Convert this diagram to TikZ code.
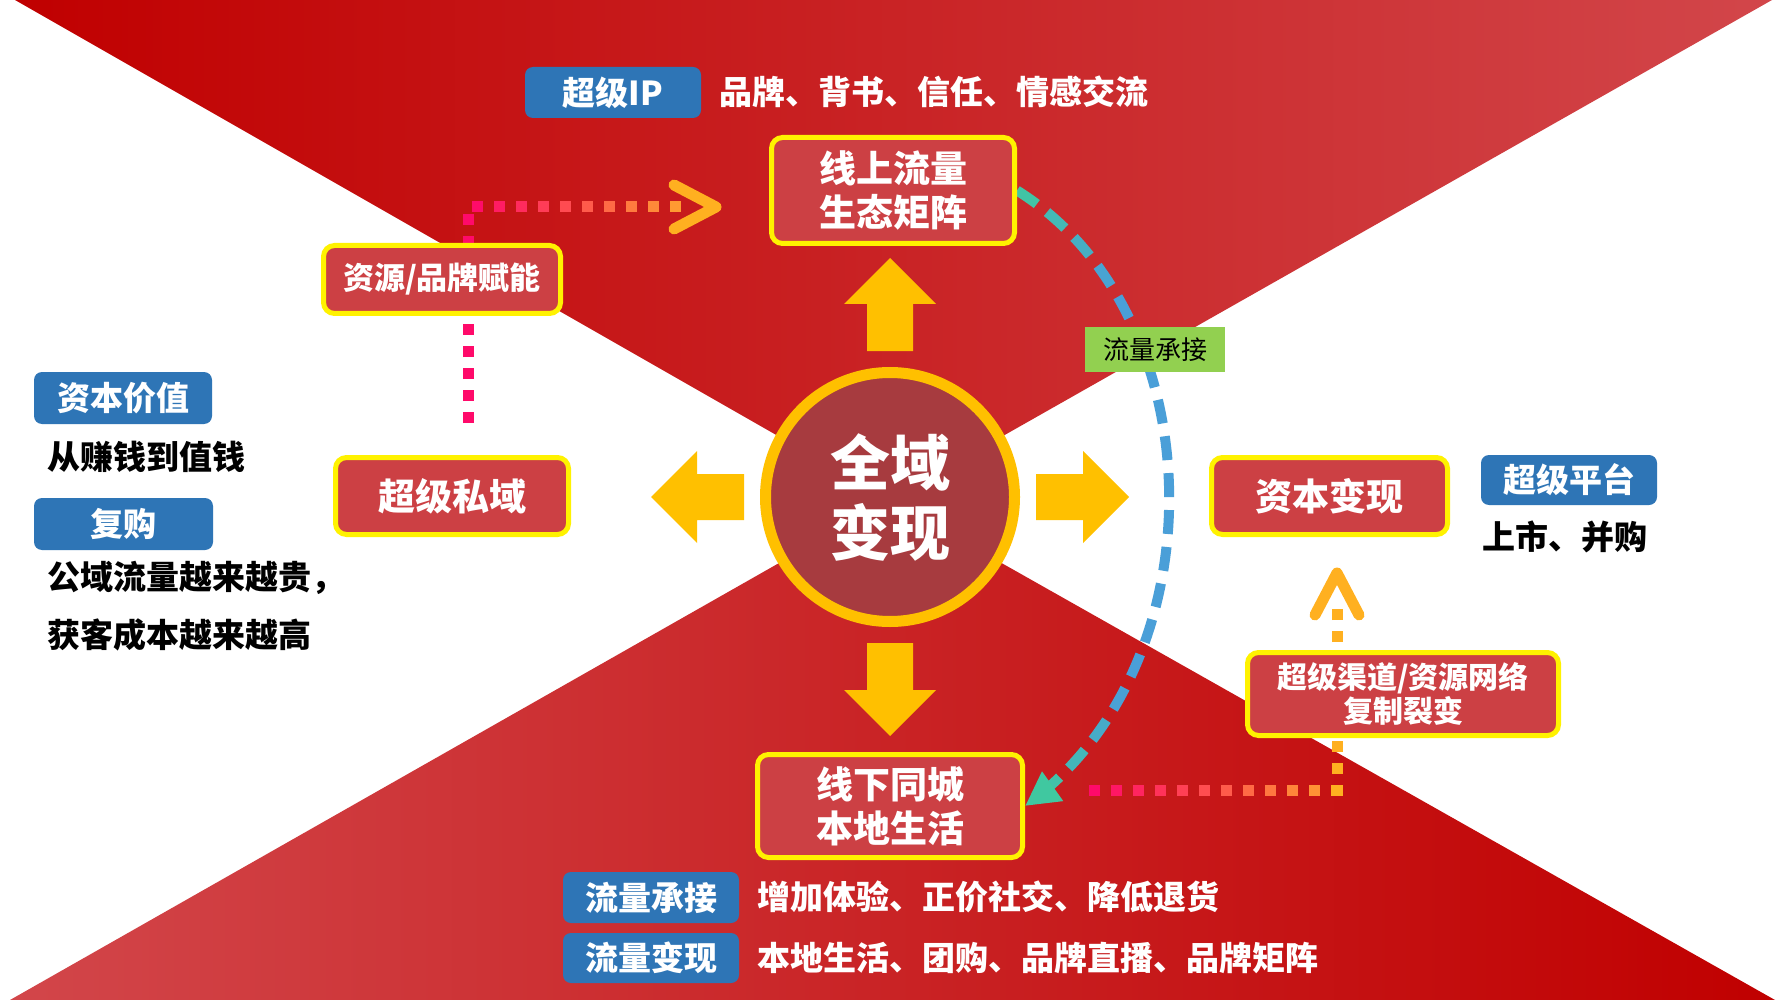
\documentclass[tikz,border=0pt]{standalone}
\usepackage{fontspec}
\setmainfont{Noto Sans CJK SC}
\usetikzlibrary{arrows.meta,calc}
\definecolor{redA}{RGB}{192,0,0}
\definecolor{redB}{RGB}{210,70,74}
\definecolor{boxred}{RGB}{204,64,68}
\definecolor{ringy}{RGB}{255,192,0}
\definecolor{cenfill}{RGB}{167,59,63}
\definecolor{bluebox}{RGB}{46,117,182}
\definecolor{greenlab}{RGB}{146,208,80}
\definecolor{dpink}{RGB}{255,10,106}
\definecolor{dorange}{RGB}{255,160,48}
\definecolor{dyellow}{RGB}{255,176,32}
\definecolor{cgreen}{RGB}{64,200,160}
\definecolor{cblue}{RGB}{74,159,216}
\pgfdeclarelayer{bg}
\pgfdeclarelayer{conn}
\pgfsetlayers{bg,conn,main}
\begin{document}
\begin{tikzpicture}[x=1pt,y=-1pt,
  redbox/.style={draw=yellow, line width=5pt, fill=boxred, rounded corners=11pt, text=white,
    font=\bfseries\fontsize{37}{44}\selectfont, align=center, inner sep=0pt},
  bluetag/.style={fill=bluebox, rounded corners=8pt, text=white,
    font=\bfseries\fontsize{33}{38}\selectfont, inner sep=0pt},
  plaintext/.style={font=\bfseries\fontsize{33}{40}\selectfont, inner sep=0pt, anchor=west},
  blockarrow/.style={fill=ringy},
  dotline/.style={line width=11pt},
  curveline/.style={line width=10pt},
  chevron/.style={dyellow, line width=11pt, line cap=round, line join=round}
]
\useasboundingbox (0,0) rectangle (1778,1000);
\begin{pgfonlayer}{bg}
  \fill[white] (0,0) rectangle (1778,1000);
  \shade[left color=redA, right color=redB] (15,0) -- (1772,0) -- (890,500) -- cycle;
  \shade[left color=redB, right color=redA] (10,1000) -- (1775,1000) -- (890,500) -- cycle;
\end{pgfonlayer}

% centre
\node[circle, draw=ringy, line width=11pt, fill=cenfill, minimum size=249pt, inner sep=0pt,
  text=white, font=\bfseries\fontsize{60}{70}\selectfont, align=center] (cen) at (890,497) {全域\\变现};

% red boxes
\node[redbox, minimum width=243pt, minimum height=106pt] (on) at (893,190.5) {线上流量\\生态矩阵};
\node[redbox, minimum width=237pt, minimum height=68pt, font=\bfseries\fontsize{31}{36}\selectfont] (res) at (442,279.5) {资源/品牌赋能};
\node[redbox, minimum width=233pt, minimum height=77pt] (priv) at (452,496) {超级私域};
\node[redbox, minimum width=236pt, minimum height=77pt] (cap) at (1329.5,496) {资本变现};
\node[redbox, minimum width=311pt, minimum height=83pt, font=\bfseries\fontsize{30}{34}\selectfont] (chan) at (1403,694) {超级渠道/资源网络\\复制裂变};
\node[redbox, minimum width=265pt, minimum height=103pt] (off) at (890,806) {线下同城\\本地生活};

% green label
\node[fill=greenlab, minimum width=140pt, minimum height=45pt, inner sep=0pt,
  font=\fontsize{26}{30}\selectfont] (lab) at (1155,349.5) {流量承接};

% blue tags and texts
\node[bluetag, minimum width=176pt, minimum height=51pt] (ip) at (613,92.5) {超级IP};
\node[plaintext, text=white] (ipt) at (719,92) {品牌、背书、信任、情感交流};
\node[bluetag, minimum width=178pt, minimum height=52pt] (cv) at (123,398) {资本价值};
\node[plaintext] (cvt) at (47,457) {从赚钱到值钱};
\node[bluetag, minimum width=179pt, minimum height=52pt] (fg) at (123.5,524) {复购};
\node[plaintext] (fg1) at (47,578) {公域流量越来越贵，};
\node[plaintext] (fg2) at (47,635) {获客成本越来越高};
\node[bluetag, minimum width=176pt, minimum height=50pt] (plat) at (1569,480) {超级平台};
\node[plaintext] (platt) at (1482,537) {上市、并购};
\node[bluetag, minimum width=176pt, minimum height=51pt] (b1) at (651,897.5) {流量承接};
\node[plaintext, text=white] (b1t) at (757,897) {增加体验、正价社交、降低退货};
\node[bluetag, minimum width=176pt, minimum height=50pt] (b2) at (651,958) {流量变现};
\node[plaintext, text=white] (b2t) at (757,958) {本地生活、团购、品牌直播、品牌矩阵};

\begin{pgfonlayer}{conn}
  % yellow block arrows around the centre
  \foreach \r in {0,90,180,270} {
    \fill[blockarrow, shift={(cen.center)}, rotate=\r]
      (146,-23) -- (193,-23) -- (193,-46) -- (239,0) -- (193,46) -- (193,23) -- (146,23) -- cycle;
  }
  % flow curve (green - blue - green)
  \coordinate (c1) at (1215,314);
  \coordinate (c2) at (1222,665);
  \foreach \i in {0,...,18} {
    \pgfmathsetmacro\s{\i*37}
    \pgfmathtruncatemacro\p{max(0,min(100,170*sin(0.2571*(\s+12))))}
    \draw[curveline, color=cblue!\p!cgreen, dash pattern=on 0pt off \s pt on 24pt off 3000pt]
      (on.east) .. controls (c1) and (c2) .. (off.east);
  }
  \draw[curveline, cgreen, dash pattern=on 0pt off 3000pt, -{Triangle[length=34pt,width=34pt]}]
    (on.east) .. controls (c1) and (c2) .. (off.east);

  % dotted path: private domain -> online matrix
  \coordinate (pa) at (468,423);
  \coordinate (ta) at (716,207);
  \foreach \i in {0,...,19} {
    \pgfmathsetmacro\s{\i*22}
    \pgfmathtruncatemacro\p{\s<216 ? 0 : min(100,(\s-216)/210*100)}
    \draw[dotline, color=dorange!\p!dpink, dash pattern=on 0pt off \s pt on 11pt off 3000pt]
      (pa) |- (ta);
  }
  \draw[chevron] ($(ta)+(-42,-22)$) -- (ta) -- ($(ta)+(-42,22)$);

  % dotted path: offline -> capital
  \coordinate (pb) at (1089,790);
  \coordinate (tb) at (1337,600);
  \coordinate (tc) at (1337,573);
  \foreach \i in {0,...,19} {
    \pgfmathsetmacro\s{\i*22}
    \pgfmathtruncatemacro\p{\s<248 ? min(100,\s/240*100) : 100}
    \ifnum\p<100
      \draw[dotline, color=dorange!\p!dpink, dash pattern=on 0pt off \s pt on 11pt off 3000pt]
        (pb) -| (tb);
    \else
      \draw[dotline, color=dyellow, dash pattern=on 0pt off \s pt on 11pt off 3000pt]
        (pb) -| (tb);
    \fi
  }
  \draw[chevron] ($(tc)+(-22,42)$) -- (tc) -- ($(tc)+(22,42)$);
\end{pgfonlayer}
\end{tikzpicture}
\end{document}
